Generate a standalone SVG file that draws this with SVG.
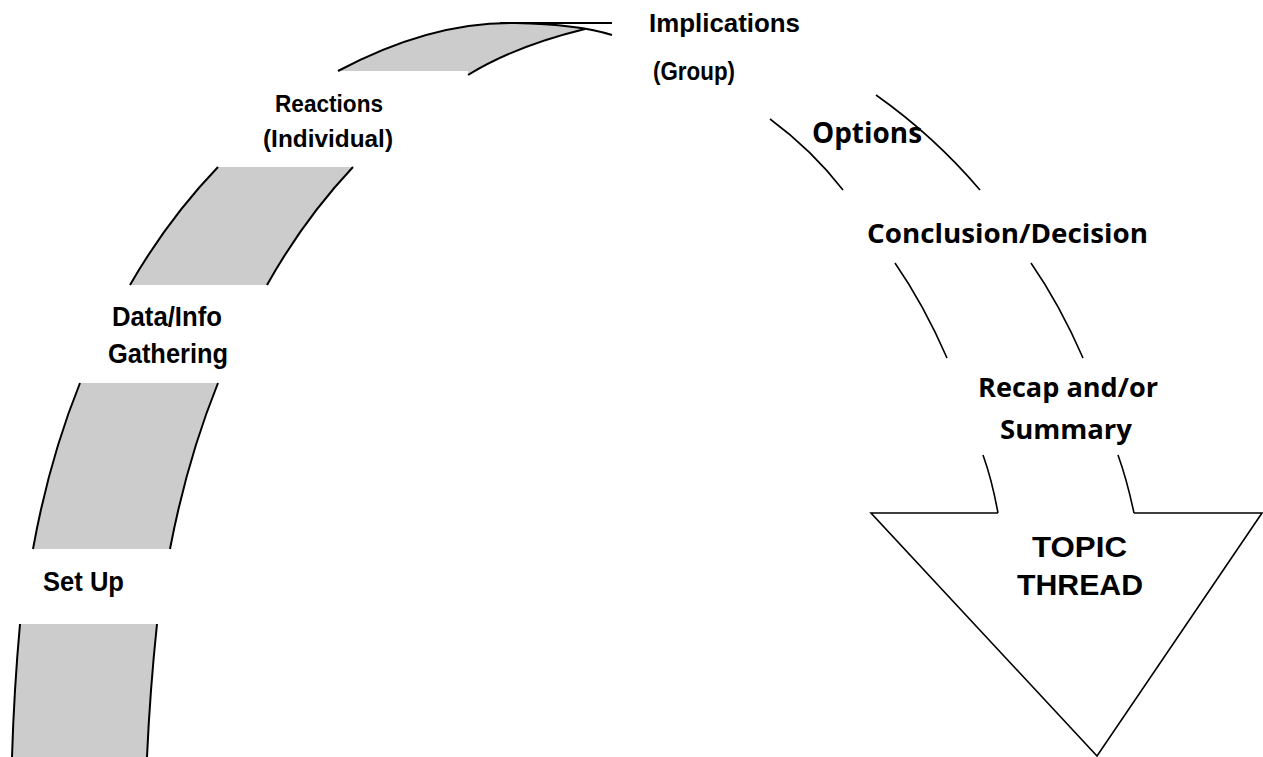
<svg xmlns="http://www.w3.org/2000/svg" width="1263" height="757" viewBox="0 0 1263 757">
<style>
.band{fill:#cccccc;stroke:none}
.edge{fill:none;stroke:#000;stroke-width:2}
.line{fill:none;stroke:#000;stroke-width:1.6}
.lbl{font-family:"Liberation Sans",Arial,sans-serif;font-weight:bold;fill:#000}
.lbl2{font-family:"Open Sans","Noto Sans",sans-serif;font-weight:700;fill:#000}
</style>
<rect width="1263" height="757" fill="#fff"/>
<g id="band">
  <g id="seg-setup">
    <path class="band" d="M20,624 Q14,690 12,757 L147,757 Q150,690 157,624 Z"/>
    <path class="edge" d="M20,624 Q14,690 12,757"/>
    <path class="edge" d="M157,624 Q150,690 147,757"/>
  </g>
  <g id="seg-data">
    <path class="band" d="M80,383 Q49,460 33,549 L170,549 Q187,460 218,383 Z"/>
    <path class="edge" d="M80,383 Q49,460 33,549"/>
    <path class="edge" d="M218,383 Q187,460 170,549"/>
  </g>
  <g id="seg-reactions">
    <path class="band" d="M218,167 Q168,219 130,285 L267,285 Q304,219 353,167 Z"/>
    <path class="edge" d="M218,167 Q168,219 130,285"/>
    <path class="edge" d="M353,167 Q304,219 267,285"/>
  </g>
  <g id="seg-implications">
    <path class="band" d="M338,71 C400,38 460,22 515,23 C545,23 565,26 585,29 Q515,46 468,75 L468,71 Z"/>
    <path class="edge" d="M338,71 C400,38 460,22 515,23 C560,24 590,28 612,35"/>
    <path class="edge" d="M500,23 L612,23"/>
    <path class="edge" d="M468,75 Q515,46 585,29"/>
  </g>
</g>
<g id="connectors">
  <path class="line" d="M770,119 Q812,150 843,190"/>
  <path class="line" d="M876,95 Q934,136 980,190"/>
  <path class="line" d="M895,263 Q924,305 947,358"/>
  <path class="line" d="M1031,263 Q1060,305 1083,358"/>
  <path class="line" d="M983,455 Q992,480 998,513"/>
  <path class="line" d="M1118,455 Q1127,480 1134,513"/>
</g>
<g id="arrow">
  <polyline class="line" points="998,513 871,513 1097,756 1262,513 1134,513"/>
</g>
<g id="label-implications">
  <text class="lbl" font-size="25" x="649" y="32" textLength="151" lengthAdjust="spacingAndGlyphs">Implications</text>
  <text class="lbl" font-size="25" x="653" y="80" textLength="82" lengthAdjust="spacingAndGlyphs">(Group)</text>
</g>
<g id="label-reactions">
  <text class="lbl" font-size="24" x="275" y="112" textLength="108" lengthAdjust="spacingAndGlyphs">Reactions</text>
  <text class="lbl" font-size="24" x="263" y="147" textLength="130" lengthAdjust="spacingAndGlyphs">(Individual)</text>
</g>
<g id="label-data">
  <text class="lbl" font-size="27" x="112" y="326" textLength="110" lengthAdjust="spacingAndGlyphs">Data/Info</text>
  <text class="lbl" font-size="27" x="108" y="363" textLength="120" lengthAdjust="spacingAndGlyphs">Gathering</text>
</g>
<g id="label-setup">
  <text class="lbl" font-size="28" x="43" y="591" textLength="81" lengthAdjust="spacingAndGlyphs">Set Up</text>
</g>
<g id="label-options">
  <text class="lbl2" font-size="28" x="812" y="143" textLength="110" lengthAdjust="spacingAndGlyphs">Options</text>
</g>
<g id="label-conclusion">
  <text class="lbl2" font-size="27" x="867" y="243" textLength="281" lengthAdjust="spacingAndGlyphs">Conclusion/Decision</text>
</g>
<g id="label-recap">
  <text class="lbl2" font-size="27" x="978" y="397" textLength="180" lengthAdjust="spacingAndGlyphs">Recap and/or</text>
  <text class="lbl2" font-size="27" x="1000" y="439" textLength="132" lengthAdjust="spacingAndGlyphs">Summary</text>
</g>
<g id="label-topic">
  <text class="lbl" font-size="29" x="1032" y="557" textLength="95" lengthAdjust="spacingAndGlyphs">TOPIC</text>
  <text class="lbl" font-size="29" x="1017" y="595" textLength="126" lengthAdjust="spacingAndGlyphs">THREAD</text>
</g>
</svg>
